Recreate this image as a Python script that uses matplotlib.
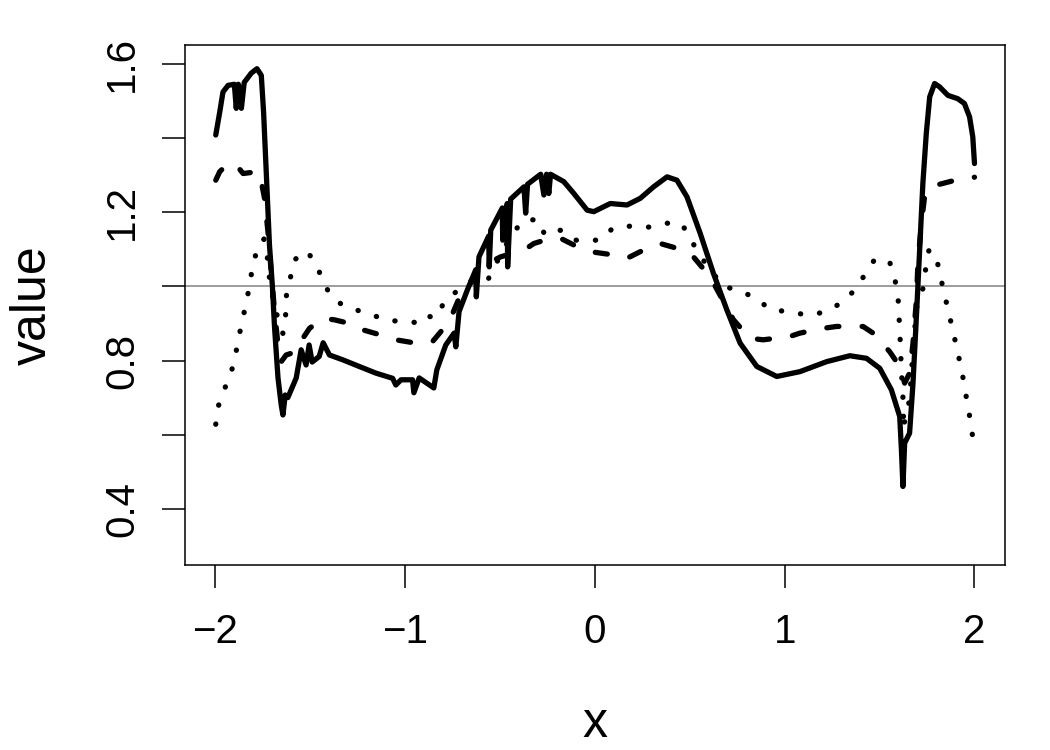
import matplotlib
matplotlib.use("Agg")
import matplotlib.pyplot as plt

plt.rcParams["font.family"] = ["Liberation Sans", "DejaVu Sans"]

# ── Data ──────────────────────────────────────────────────────────────────────
solid_x = [-1.998, -1.977, -1.960, -1.933, -1.900, -1.890, -1.879, -1.863, -1.848,
           -1.811, -1.781, -1.758, -1.746, -1.732, -1.715, -1.700, -1.688, -1.670,
           -1.653, -1.644, -1.632, -1.618, -1.574, -1.548, -1.522, -1.506, -1.490,
           -1.453, -1.432, -1.399, -1.329, -1.242, -1.154, -1.066, -1.049, -1.022,
           -0.961, -0.954, -0.926, -0.849, -0.833, -0.786, -0.742, -0.733, -0.716,
           -0.672, -0.628, -0.625, -0.611, -0.560, -0.557, -0.549, -0.488, -0.486,
           -0.462, -0.460, -0.444, -0.374, -0.365, -0.355, -0.286, -0.269, -0.255,
           -0.243, -0.234, -0.164, -0.111, -0.041, -0.006, 0.081, 0.169, 0.239,
           0.309, 0.380, 0.432, 0.485, 0.555, 0.624, 0.695, 0.765, 0.853, 0.958,
           1.080, 1.221, 1.343, 1.431, 1.501, 1.562, 1.606, 1.615, 1.623, 1.632,
           1.658, 1.676, 1.694, 1.711, 1.728, 1.746, 1.764, 1.790, 1.816, 1.860,
           1.912, 1.947, 1.974, 1.991, 2.000]
solid_y = [1.409, 1.471, 1.525, 1.543, 1.546, 1.481, 1.546, 1.481, 1.551,
           1.576, 1.588, 1.570, 1.471, 1.310, 1.112, 1.004, 0.888, 0.753,
           0.680, 0.653, 0.707, 0.700, 0.753, 0.829, 0.788, 0.842, 0.796,
           0.811, 0.848, 0.815, 0.802, 0.784, 0.766, 0.752, 0.734, 0.748,
           0.748, 0.713, 0.753, 0.726, 0.775, 0.842, 0.874, 0.837, 0.932,
           0.991, 1.045, 0.972, 1.080, 1.136, 1.053, 1.152, 1.212, 1.125,
           1.224, 1.053, 1.236, 1.269, 1.198, 1.276, 1.303, 1.247, 1.303,
           1.251, 1.303, 1.283, 1.251, 1.206, 1.202, 1.224, 1.220, 1.238,
           1.269, 1.296, 1.287, 1.242, 1.143, 1.036, 0.937, 0.847, 0.784, 0.757,
           0.770, 0.797, 0.813, 0.806, 0.779, 0.721, 0.649, 0.559, 0.460, 0.577,
           0.604, 0.739, 0.919, 1.098, 1.278, 1.413, 1.512, 1.548, 1.539, 1.516,
           1.507, 1.494, 1.458, 1.404, 1.332]

dashed_x = [-1.998, -1.977, -1.933, -1.890, -1.854, -1.776, -1.758, -1.741, -1.723,
            -1.706, -1.688, -1.670, -1.653, -1.627, -1.574, -1.539, -1.504, -1.434,
            -1.373, -1.259, -1.224, -1.101, -1.049, -0.944, -0.856, -0.768, -0.716,
            -0.672, -0.602, -0.497, -0.374, -0.322, -0.234, -0.181, -0.076, -0.024,
            0.099, 0.169, 0.274, 0.344, 0.467, 0.519, 0.607, 0.730, 0.817, 0.887,
            1.027, 1.080, 1.203, 1.273, 1.413, 1.466, 1.553, 1.606, 1.632, 1.658,
            1.676, 1.694, 1.702, 1.720, 1.737, 1.764, 1.869, 1.939, 2.000]
dashed_y = [1.287, 1.310, 1.332, 1.328, 1.305, 1.310, 1.283, 1.238, 1.148,
            1.040, 0.932, 0.842, 0.797, 0.815, 0.824, 0.860, 0.887, 0.914,
            0.910, 0.896, 0.883, 0.865, 0.856, 0.847, 0.851, 0.905, 0.968,
            1.000, 1.053, 1.080, 1.098, 1.116, 1.130, 1.130, 1.103, 1.094,
            1.085, 1.076, 1.103, 1.116, 1.098, 1.080, 1.026, 0.910, 0.860, 0.856,
            0.865, 0.874, 0.887, 0.892, 0.892, 0.874, 0.824, 0.784, 0.739, 0.766,
            0.847, 0.964, 1.063, 1.170, 1.242, 1.269, 1.283, 1.292, 1.295]

dotted_x = [-1.998, -1.983, -1.951, -1.916, -1.893, -1.875, -1.854, -1.833, -1.816,
            -1.799, -1.770, -1.744, -1.727, -1.718, -1.695, -1.669, -1.644, -1.630,
            -1.627, -1.606, -1.586, -1.518, -1.464, -1.431, -1.381, -1.315, -1.247,
            -1.163, -1.084, -1.031, -0.949, -0.912, -0.853, -0.824, -0.795, -0.730,
            -0.672, -0.567, -0.476, -0.388, -0.353, -0.299, -0.269, -0.238, -0.155,
            -0.102, 0.024, 0.094, 0.187, 0.280, 0.374, 0.458, 0.507, 0.558, 0.674,
            0.765, 0.849, 0.926, 1.022, 1.115, 1.206, 1.290, 1.359, 1.415, 1.469,
            1.550, 1.579, 1.597, 1.607, 1.615, 1.627, 1.623, 1.658, 1.680, 1.697,
            1.732, 1.743, 1.760, 1.795, 1.816, 1.837, 1.860, 1.882, 1.904, 1.925,
            1.944, 1.960, 1.977, 1.991]
dotted_y = [0.628, 0.679, 0.724, 0.769, 0.818, 0.867, 0.917, 0.966, 1.017,
            1.066, 1.114, 1.128, 1.083, 1.033, 0.964, 0.910, 0.873, 0.921,
            0.972, 1.020, 1.071, 1.096, 1.056, 1.009, 0.968, 0.945, 0.935,
            0.921, 0.907, 0.907, 0.903, 0.923, 0.917, 0.921, 0.961, 0.986,
            1.009, 1.015, 1.107, 1.175, 1.179, 1.181, 1.145, 1.159, 1.148,
            1.125, 1.125, 1.157, 1.163, 1.160, 1.171, 1.169, 1.125, 1.080, 1.001,
            0.988, 0.968, 0.937, 0.932, 0.923, 0.930, 0.953, 0.985, 1.026, 1.069,
            1.071, 1.024, 0.974, 0.873, 0.772, 0.665, 0.616, 0.694, 0.856, 0.950,
            1.000, 1.049, 1.098, 1.088, 1.038, 0.989, 0.939, 0.890, 0.840, 0.791,
            0.742, 0.691, 0.642, 0.592]

ref_level = 1.0
x_ticks = [-2, -1, 0, 1, 2]
x_tick_labels = ["\u22122", "\u22121", "0", "1", "2"]
y_ticks = [0.4, 0.6, 0.8, 1.0, 1.2, 1.4, 1.6]
y_tick_labels = ["0.4", "", "0.8", "", "1.2", "", "1.6"]

# ── Figure ────────────────────────────────────────────────────────────────────
fig = plt.figure(figsize=(10.5, 7.5), dpi=100)
ax = fig.add_axes([0.1762, 0.2467, 0.957 - 0.1762, 0.94 - 0.2467])

LW = 3.8
ax.axhline(ref_level, color="#8c8c8c", linewidth=1.2, zorder=1)
ax.plot(solid_x, solid_y, color="black", linewidth=LW,
        solid_capstyle="round", solid_joinstyle="round", zorder=3)
ax.plot(dashed_x, dashed_y, color="black", linewidth=LW,
        linestyle=(0, (2.3, 4.4)), dash_capstyle="round",
        dash_joinstyle="round", zorder=3)
ax.plot(dotted_x, dotted_y, color="black", linewidth=LW,
        linestyle=(0, (0.05, 3.6)), dash_capstyle="round", zorder=3)

ax.set_xlim(-2.16, 2.16)
ax.set_ylim(0.248, 1.652)

ax.set_xticks(x_ticks)
ax.set_xticklabels(x_tick_labels)
ax.set_yticks(y_ticks)
ax.set_yticklabels(y_tick_labels, rotation=90, va="center")

ax.tick_params(direction="out", length=16.5, width=1.1, colors="black",
               labelsize=29)
ax.tick_params(axis="x", pad=18)
ax.tick_params(axis="y", pad=15)
for spine in ax.spines.values():
    spine.set_linewidth(1.1)

ax.set_xlabel("x", fontsize=36, labelpad=36)
ax.set_ylabel("value", fontsize=36, labelpad=34)

fig.savefig("out.png", dpi=100, facecolor="white")
